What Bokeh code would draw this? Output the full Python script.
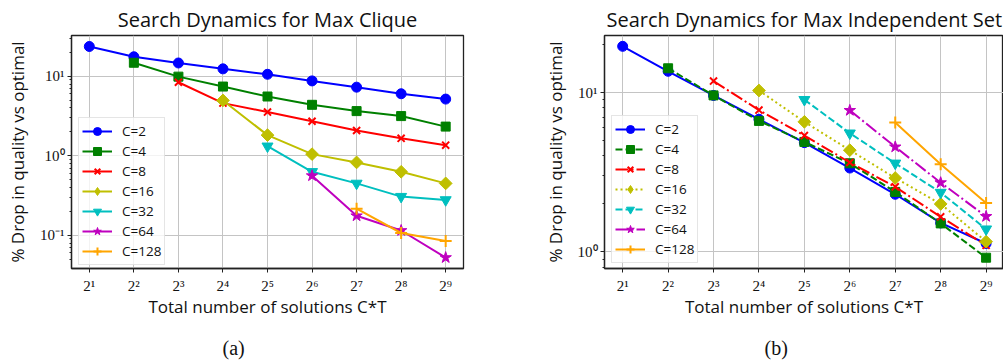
import numpy as np
from bokeh.plotting import figure
from bokeh.models import Range1d, FixedTicker, LogAxis, Legend, LegendItem
from bokeh.layouts import row
from bokeh.embed import file_html
from bokeh.resources import INLINE

# ---------------- data ----------------
SOLUTIONS = [2, 4, 8, 16, 32, 64, 128, 256, 512]
X_TICK_LABELS = ["2¹", "2²", "2³", "2⁴", "2⁵", "2⁶", "2⁷", "2⁸", "2⁹"]
C_LABELS = ["C=2", "C=4", "C=8", "C=16", "C=32", "C=64", "C=128"]

# Max Clique (each series starts at T=1, i.e. C*T=C, and ends at 2^9)
clique_c2 = [23.7, 17.6, 14.7, 12.4, 10.6, 8.75, 7.3, 6.03, 5.17]
clique_c4 = [14.8, 9.9, 7.43, 5.57, 4.38, 3.65, 3.16, 2.33]
clique_c8 = [8.41, 4.6, 3.55, 2.72, 2.08, 1.66, 1.36]
clique_c16 = [4.97, 1.82, 1.05, 0.826, 0.63, 0.45]
clique_c32 = [1.32, 0.63, 0.45, 0.307, 0.279]
clique_c64 = [0.562, 0.176, 0.115, 0.0525]
clique_c128 = [0.216, 0.107, 0.085]

# Max Independent Set
mis_c2 = [19.5, 13.6, 9.59, 6.8, 4.85, 3.36, 2.30, 1.52, 1.13]
mis_c4 = [14.2, 9.6, 6.64, 4.9, 3.6, 2.38, 1.51, 0.92]
mis_c8 = [11.8, 7.76, 5.37, 3.64, 2.56, 1.66, 1.1]
mis_c16 = [10.3, 6.55, 4.35, 2.91, 2.0, 1.16]
mis_c32 = [9.02, 5.56, 3.6, 2.36, 1.39]
mis_c64 = [7.73, 4.56, 2.72, 1.67]
mis_c128 = [6.49, 3.55, 2.03]

Y_TICKS_A = [0.1, 1, 10]
Y_TICKS_B = [1, 10]
Y_TICK_LABELS = {0.1: "10⁻¹", 1: "10⁰", 10: "10¹"}
MINOR = [0.05, 0.06, 0.07, 0.08, 0.09] + [i / 10 for i in range(2, 10)] + list(range(2, 10)) + [20, 30]

# ---------------- styling ----------------
COLORS = ["#0000ff", "#008000", "#ff0000", "#bfbf00", "#00bfbf", "#bf00bf", "#ffa500"]
MARKERS = ["circle", "square", "x", "square", "inverted_triangle", "star", "cross"]
LEGEND_MARKERS = ["circle", "square", "x", "diamond", "inverted_triangle", "star", "cross"]
ANGLES = [0, 0, 0, np.pi / 4, 0, 0, 0]
SIZES = [10, 9, 10, 9, 11, 12, 12]
DASH_A = ["solid"] * 7
DASH_B = ["solid", "7 3", "13 3 2 3", "2 3", "7 3", "13 3 2 3", "solid"]
CAPTION_X_A = 18.9   # horizontal anchor (x-axis units) of the "(a)" caption
CAPTION_X_B = 20.8   # horizontal anchor (x-axis units) of the "(b)" caption

SANS = "Open Sans"
SERIF = "Liberation Serif"
INK = "#111111"


def make_fig(title, series, dashes, width, mb_left, mb_right, mb_top, x_end_exp,
             y_lo_exp, y_hi_exp, y_ticks, title_align, title_offset, caption, cap_x,
             legend_loc):
    p = figure(width=width, height=362, x_axis_type="log", y_axis_type="log",
               output_backend="svg", toolbar_location=None,
               x_range=Range1d(2 ** 0.6, 2 ** x_end_exp),
               y_range=Range1d(10 ** y_lo_exp, 10 ** y_hi_exp),
               min_border_left=mb_left, min_border_right=mb_right,
               min_border_top=mb_top, min_border_bottom=94)
    p.title.text = title
    p.title.text_font = SANS
    p.title.text_font_size = "20px"
    p.title.text_font_style = "normal"
    p.title.text_color = INK
    p.title.align = title_align
    p.title.offset = title_offset
    p.title.standoff = 6

    items = []
    for i, vals in enumerate(series):
        xs = SOLUTIONS[-len(vals):]
        lr = p.line(xs, vals, line_color=COLORS[i], line_width=2, line_dash=dashes[i])
        lw = 2 if MARKERS[i] in ("x", "cross") else 1
        legend_rs = [lr]
        if LEGEND_MARKERS[i] != MARKERS[i]:
            # legend-shaped marker hidden under the plotted (rotated) marker
            hr = p.scatter(xs, vals, marker=LEGEND_MARKERS[i], size=10,
                           fill_color=COLORS[i], line_color=COLORS[i], line_width=lw)
            legend_rs.append(hr)
        mr = p.scatter(xs, vals, marker=MARKERS[i], size=SIZES[i], angle=ANGLES[i],
                       fill_color=COLORS[i], line_color=COLORS[i], line_width=lw)
        if LEGEND_MARKERS[i] == MARKERS[i]:
            legend_rs.append(mr)
        items.append(LegendItem(label=C_LABELS[i], renderers=legend_rs))

    p.xaxis.ticker = FixedTicker(ticks=SOLUTIONS, minor_ticks=[])
    p.xaxis.major_label_overrides = {s: lab for s, lab in zip(SOLUTIONS, X_TICK_LABELS)}
    p.yaxis.ticker = FixedTicker(ticks=y_ticks, minor_ticks=MINOR)
    p.yaxis.major_label_overrides = {t: Y_TICK_LABELS[t] for t in y_ticks}

    for ax in (p.xaxis, p.yaxis):
        ax.major_label_text_font = SERIF
        ax.major_label_text_font_size = "15px"
        ax.major_label_text_color = INK
        ax.axis_label_text_font = SANS
        ax.axis_label_text_font_size = "17px"
        ax.axis_label_text_font_style = "normal"
        ax.axis_label_text_color = INK
        ax.axis_line_color = "#222222"
        ax.axis_line_width = 1.3
        ax.major_tick_line_color = "#222222"
        ax.minor_tick_line_color = "#222222"
        ax.major_tick_in = 0
        ax.major_tick_out = 4
        ax.minor_tick_in = 0
        ax.minor_tick_out = 2
    p.xaxis.axis_label = "Total number of solutions C*T"
    p.yaxis.axis_label = "% Drop in quality vs optimal"
    p.xaxis.major_label_standoff = 5
    p.xaxis.axis_label_standoff = -2
    p.yaxis.major_label_standoff = 3
    p.yaxis.axis_label_standoff = 8

    p.xgrid.grid_line_color = "#c4c4c4"
    p.ygrid.grid_line_color = "#c4c4c4"

    p.outline_line_color = "#222222"
    p.outline_line_width = 1.3
    p.outline_line_alpha = 1

    lg = Legend(items=items, location=legend_loc)
    lg.label_text_font = SANS
    lg.label_text_font_size = "13.5px"
    lg.label_text_color = INK
    lg.glyph_width = 30
    lg.glyph_height = 20
    lg.label_height = 17
    lg.spacing = 0
    lg.padding = 3
    lg.margin = 0
    lg.label_standoff = 10
    lg.border_line_color = "#cccccc"
    lg.border_line_width = 1
    lg.background_fill_alpha = 0.8
    p.add_layout(lg, "center")

    # sub-figure caption: a bare extra axis whose single label is the caption
    cap_axis = LogAxis(ticker=FixedTicker(ticks=[cap_x], minor_ticks=[]),
                       major_label_overrides={cap_x: caption})
    cap_axis.axis_line_color = None
    cap_axis.major_tick_line_color = None
    cap_axis.minor_tick_line_color = None
    cap_axis.major_tick_out = 0
    cap_axis.major_tick_in = 0
    cap_axis.major_label_standoff = 16
    cap_axis.major_label_text_font = SERIF
    cap_axis.major_label_text_font_size = "20px"
    cap_axis.major_label_text_color = INK
    p.add_layout(cap_axis, "below")
    return p


p1 = make_fig("Search Dynamics for Max Clique",
              [clique_c2, clique_c4, clique_c8, clique_c16, clique_c32, clique_c64, clique_c128],
              DASH_A, 500, 71, 37, 35, 9.4, -1.417, 1.513, Y_TICKS_A, "center", 0, "(a)",
              CAPTION_X_A, (7, 3))
p2 = make_fig("Search Dynamics for Max Independent Set",
              [mis_c2, mis_c4, mis_c8, mis_c16, mis_c32, mis_c64, mis_c128],
              DASH_B, 503, 104, 0, 29, 9.383, -0.104, 1.358, Y_TICKS_B, "left", 2, "(b)",
              CAPTION_X_B, (7, 5))

layout = row(p1, p2)
open("out.html", "w").write(file_html(layout, INLINE))
